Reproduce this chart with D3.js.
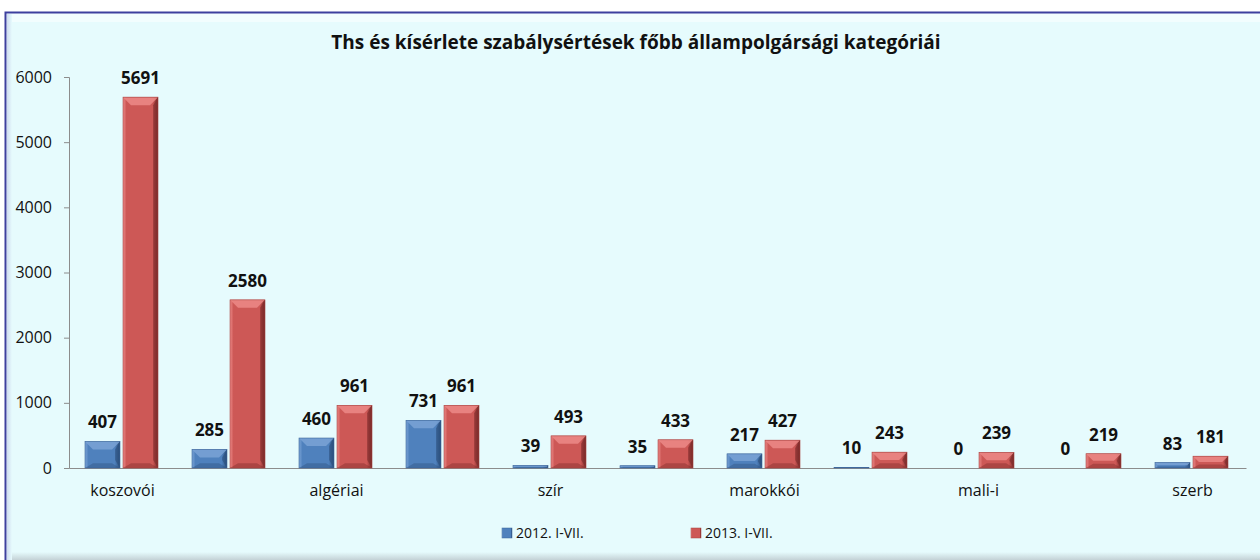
<!DOCTYPE html>
<html>
<head>
<meta charset="utf-8">
<script src="https://cdn.jsdelivr.net/npm/d3@7"></script>
<style>
  body { margin: 0; background: #fff; }
  svg { display: block; font-family: "Open Sans", sans-serif; }
</style>
</head>
<body>
<div id="chart-area"></div>
<script>
// data
var labels = ['koszovói', '', 'algériai', '', 'szír', '', 'marokkói', '', 'mali-i', '', 'szerb'];
var series = ['2012. I-VII.', '2013. I-VII.'];
var values2012 = [407, 285, 460, 731, 39, 35, 217, 10, 0, 0, 83];
var values2013 = [5691, 2580, 961, 961, 493, 433, 427, 243, 239, 219, 181];
var yTicks = [0, 1000, 2000, 3000, 4000, 5000, 6000];

var W = 1260, H = 560;
var margin = {top: 77, left: 69, right: 14, bottom: 92};
var height = H - margin.top - margin.bottom;
var width = W - margin.left - margin.right;
var font = '"Open Sans", sans-serif';

var svg = d3.select('#chart-area')
  .append('svg')
    .attr('width', W)
    .attr('height', H);

var defs = svg.append('defs');

// frame with a soft bevel
var frameGrad = defs.append('linearGradient').attr('id', 'frameBottom')
  .attr('x1', 0).attr('y1', 0).attr('x2', 0).attr('y2', 1);
frameGrad.append('stop').attr('offset', '0%').attr('stop-color', '#e6fbfd');
frameGrad.append('stop').attr('offset', '100%').attr('stop-color', '#c4d2d6');
var frameLeft = defs.append('linearGradient').attr('id', 'frameLeft')
  .attr('x1', 0).attr('y1', 0).attr('x2', 1).attr('y2', 0);
frameLeft.append('stop').attr('offset', '0%').attr('stop-color', '#cfdcef');
frameLeft.append('stop').attr('offset', '100%').attr('stop-color', '#e6fbfd');

svg.append('rect')
  .attr('x', 5.5).attr('y', 12.5)
  .attr('width', W + 10).attr('height', H)
  .attr('fill', '#f2fdfe')
  .attr('stroke', '#3d3f9e')
  .attr('stroke-width', 2);
svg.append('rect')
  .attr('x', 12).attr('y', 22)
  .attr('width', W).attr('height', H - 28)
  .attr('fill', '#e6fbfd');
svg.append('rect')
  .attr('x', 7).attr('y', H - 8)
  .attr('width', W).attr('height', 8)
  .attr('fill', 'url(#frameBottom)');
svg.append('rect')
  .attr('x', 7).attr('y', 14)
  .attr('width', 5).attr('height', H)
  .attr('fill', 'url(#frameLeft)');

// gradients for the bevelled bars
var colors = [
  {base: '#4f81bd', light: '#7aa3d6', dark: '#2c4f7c', side: '#3a6398'},
  {base: '#cd5856', light: '#ec8987', dark: '#7a2a29', side: '#a8403e'}
];
colors.forEach(function(c, i) {
  var g = defs.append('linearGradient').attr('id', 'barGrad' + i)
    .attr('x1', 0).attr('y1', 0).attr('x2', 1).attr('y2', 0);
  g.append('stop').attr('offset', '0%').attr('stop-color', c.light);
  g.append('stop').attr('offset', '10%').attr('stop-color', c.base);
  g.append('stop').attr('offset', '85%').attr('stop-color', c.base);
  g.append('stop').attr('offset', '100%').attr('stop-color', c.dark);
});

var chart = svg.append('g')
  .attr('transform', 'translate(' + margin.left + ',' + margin.top + ')');

// scales
var x0 = d3.scaleBand()
  .domain(d3.range(labels.length))
  .range([0, width]);
var x1 = d3.scaleBand()
  .domain([0, 1])
  .range([16, 89])
  .paddingInner(0.08);
var y = d3.scaleLinear()
  .domain([0, 6000])
  .range([height, 0]);

// title
svg.append('text')
  .attr('x', 636)
  .attr('y', 49)
  .attr('text-anchor', 'middle')
  .style('font-size', '19px')
  .style('font-weight', 'bold')
  .attr('fill', '#111')
  .text('Ths és kísérlete szabálysértések főbb állampolgársági kategóriái');

// y axis
var yAxisCall = d3.axisLeft(y)
  .tickValues(yTicks)
  .tickSize(5)
  .tickPadding(12)
  .tickFormat(d3.format('d'));
var yAxis = chart.append('g')
  .attr('class', 'y-axis')
  .call(yAxisCall)
  .attr('font-size', 16)
  .attr('font-family', font);
yAxis.select('.domain').attr('stroke', '#8c8c8c');
yAxis.selectAll('.tick line').attr('stroke', '#8c8c8c');
yAxis.selectAll('.tick text')
  .style('font-size', '16px')
  .attr('fill', '#111');

// x axis (only every other label is shown)
var xAxisCall = d3.axisBottom(x0)
  .tickSize(0)
  .tickPadding(17)
  .tickFormat(function(i) { return labels[i]; });
var xAxis = chart.append('g')
  .attr('class', 'x-axis')
  .attr('transform', 'translate(0,' + height + ')')
  .call(xAxisCall)
  .attr('font-size', 16)
  .attr('font-family', font);
xAxis.select('.domain').attr('stroke', '#8c8c8c');
xAxis.selectAll('.tick text')
  .style('font-size', '16px')
  .attr('fill', '#111');

// bars
var rows = [];
labels.forEach(function(l, i) {
  rows.push({cat: i, s: 0, value: values2012[i]});
  rows.push({cat: i, s: 1, value: values2013[i]});
});

var bars = chart.selectAll('g.bar')
  .data(rows)
  .enter().append('g')
    .attr('class', 'bar')
    .attr('transform', function(d) {
      return 'translate(' + (x0(d.cat) + x1(d.s)) + ',' + y(d.value) + ')';
    });

var bw = x1.bandwidth();
bars.each(function(d) {
  var g = d3.select(this);
  var h = height - y(d.value);
  if (h <= 0) return;
  var c = colors[d.s];
  var b = Math.min(8, h / 2, bw / 4);
  g.append('rect')
    .attr('width', bw).attr('height', h)
    .attr('fill', 'url(#barGrad' + d.s + ')');
  // top bevel
  g.append('path')
    .attr('d', 'M0,0 L' + bw + ',0 L' + (bw - b) + ',' + b + ' L' + b + ',' + b + ' Z')
    .attr('fill', c.light)
    .attr('opacity', 0.85);
  // right side
  g.append('path')
    .attr('d', 'M' + bw + ',0 L' + bw + ',' + h + ' L' + (bw - b * 0.6) + ',' + (h - b) + ' L' + (bw - b * 0.6) + ',' + b + ' Z')
    .attr('fill', c.dark)
    .attr('opacity', 0.6);
  // bottom
  g.append('path')
    .attr('d', 'M0,' + h + ' L' + bw + ',' + h + ' L' + (bw - b) + ',' + (h - b * 0.6) + ' L' + b + ',' + (h - b * 0.6) + ' Z')
    .attr('fill', c.dark)
    .attr('opacity', 0.4);
  g.append('rect')
    .attr('width', bw).attr('height', h)
    .attr('fill', 'none')
    .attr('stroke', c.side)
    .attr('stroke-width', 0.6);
});

// value labels
chart.selectAll('text.value')
  .data(rows)
  .enter().append('text')
    .attr('class', 'value')
    .attr('x', function(d) { return x0(d.cat) + x1(d.s) + bw / 2; })
    .attr('y', function(d) { return y(d.value) - 13; })
    .attr('text-anchor', 'middle')
    .style('font-size', '17px')
    .style('font-weight', 'bold')
    .attr('fill', '#111')
    .text(function(d) { return d.value; });

// legend
var legendX = [502, 691];
series.forEach(function(name, i) {
  var row = svg.append('g')
    .attr('transform', 'translate(' + legendX[i] + ',528)');
  row.append('rect')
    .attr('width', 10).attr('height', 10)
    .attr('fill', 'url(#barGrad' + i + ')')
    .attr('stroke', colors[i].side)
    .attr('stroke-width', 0.5);
  row.append('text')
    .attr('x', 14)
    .attr('y', 10)
    .style('font-size', '14px')
    .attr('fill', '#111')
    .text(name);
});
</script>
</body>
</html>
